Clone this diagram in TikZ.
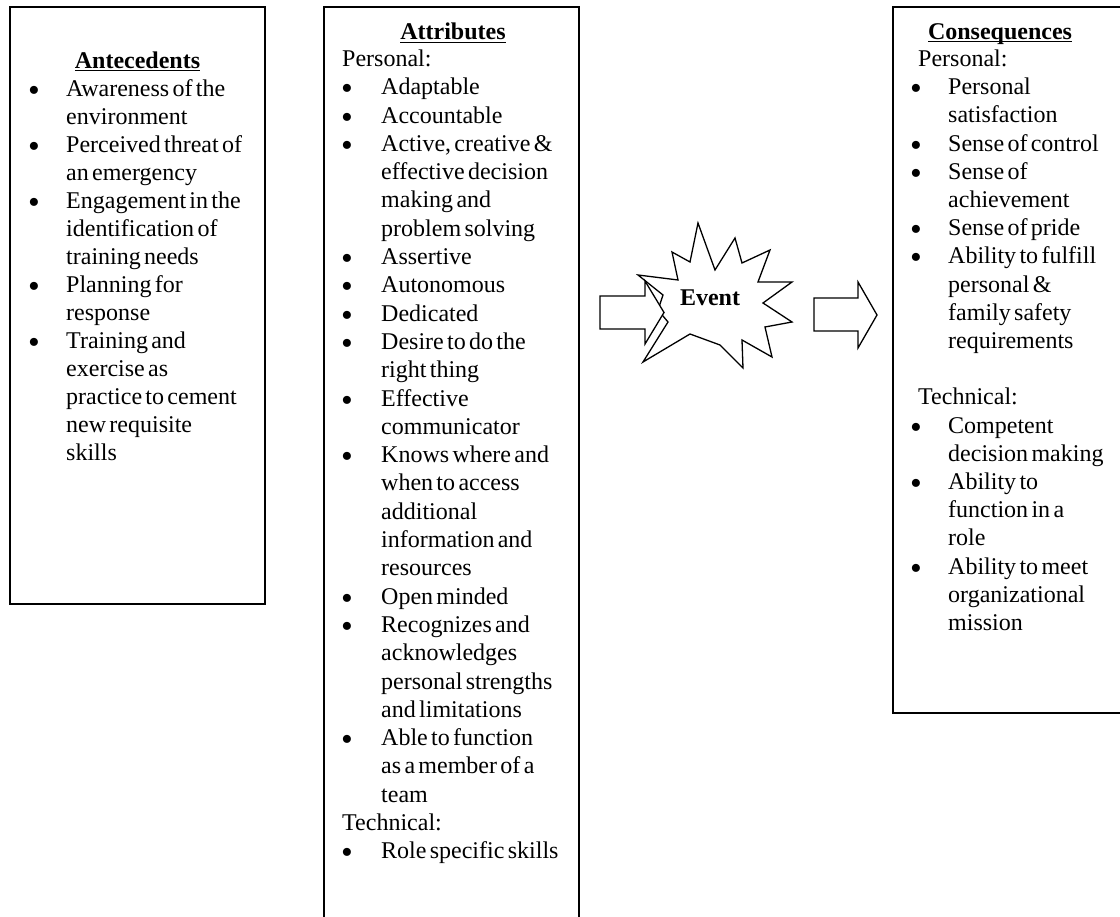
\documentclass[tikz,border=0pt]{standalone}
\usepackage{fontspec}
\usepackage{graphicx}
\setmainfont{Liberation Serif}
\newlength{\bind}
\newcommand{\bigbul}{\raisebox{-5pt}[0pt][0pt]{\scalebox{1.4}{\textbullet}}}
\newcommand{\bitem}[1]{\noindent\makebox[\bind][l]{\bigbul}\parbox[t]{220pt}{#1\par\xdef\lastpd{\the\prevdepth}}\par\prevdepth=\lastpd\relax}
\newcommand{\plain}[2]{\noindent\hspace{#1}#2\par}
\newcommand{\hdrul}[1]{\setbox0\hbox{\textbf{#1}}\rlap{\rule[-3pt]{\wd0}{1.2pt}}\box0}
\begin{document}
\begin{tikzpicture}[x=1pt,y=-1pt,
  boxframe/.style={draw=black, line width=1.3pt},
  outl/.style={draw=black, line width=1.3pt, fill=white, line join=miter},
  hdr/.style={font=\fontsize{24}{28.2}\selectfont, inner sep=0pt, anchor=base},
  txt/.style={inner sep=0pt, anchor=base west, text width=260pt}]
\useasboundingbox (0,0) rectangle (1120,917);
\clip (0,0) rectangle (1120,917);
% boxes
\draw[boxframe] (10,7) rectangle (265,604);
\draw[boxframe] (324,7) rectangle (579,940);
\draw[boxframe] (893,7) rectangle (1160,713);
% star
\draw[outl] (638,275) -- (678,280) -- (672,252) -- (690,262) -- (698,223) -- (715,270)
  -- (735,238) -- (742,263) -- (770,250) -- (758,282) -- (792,282) -- (763,303)
  -- (792,322) -- (765,327) -- (772,357) -- (742,340) -- (743,368) -- (720,345)
  -- (690,334) -- (643,362) -- (668,322) -- (658,310) -- (663,295) -- cycle;
% arrows
\draw[outl] (600,296) -- (645,296) -- (645,281) -- (664,312.5) -- (645,344) -- (645,329) -- (600,329) -- cycle;
\draw[outl] (814,298) -- (858,298) -- (858,282) -- (877,315) -- (858,348) -- (858,331) -- (814,331) -- cycle;
\node[font=\bfseries\fontsize{24}{28}\selectfont, inner sep=0pt, anchor=base] (evt) at (710,306) {Event};
% headers
\node[hdr] (antH) at (137.5,68.5) {\hdrul{Antecedents}};
\node[hdr] (attH) at (453,40) {\hdrul{Attributes}};
\node[hdr] (conH) at (1000,39.5) {\hdrul{Consequences}};
% bodies
\node[txt] (antB) at (28,96.7) {\fontsize{24}{28}\selectfont\setlength{\bind}{38pt}%
\bitem{Awareness of the\\environment}%
\bitem{Perceived threat of\\an emergency}%
\bitem{Engagement in the\\identification of\\training needs}%
\bitem{Planning for\\response}%
\bitem{Training and\\exercise as\\practice to cement\\new requisite\\skills}};
\node[txt] (attB) at (341,66.5) {\fontsize{24}{28.3}\selectfont\setlength{\bind}{40pt}%
\plain{1pt}{Personal:}%
\bitem{Adaptable}%
\bitem{Accountable}%
\bitem{Active, creative \&\\effective decision\\making and\\problem solving}%
\bitem{Assertive}%
\bitem{Autonomous}%
\bitem{Dedicated}%
\bitem{Desire to do the\\right thing}%
\bitem{Effective\\communicator}%
\bitem{Knows where and\\when to access\\additional\\information and\\resources}%
\bitem{Open minded}%
\bitem{Recognizes and\\acknowledges\\personal strengths\\and limitations}%
\bitem{Able to function\\as a member of a\\team}%
\plain{1pt}{Technical:}%
\bitem{Role specific skills}};
\node[txt] (conB) at (910,66.5) {\fontsize{24}{28.2}\selectfont\setlength{\bind}{38pt}%
\plain{8pt}{Personal:}%
\bitem{Personal\\satisfaction}%
\bitem{Sense of control}%
\bitem{Sense of\\achievement}%
\bitem{Sense of pride}%
\bitem{Ability to fulfill\\personal \&\\family safety\\requirements}%
\plain{0pt}{\mbox{}}%
\plain{8pt}{Technical:}%
\bitem{Competent\\decision making}%
\bitem{Ability to\\function in a\\role}%
\bitem{Ability to meet\\organizational\\mission}};
\end{tikzpicture}
\end{document}
